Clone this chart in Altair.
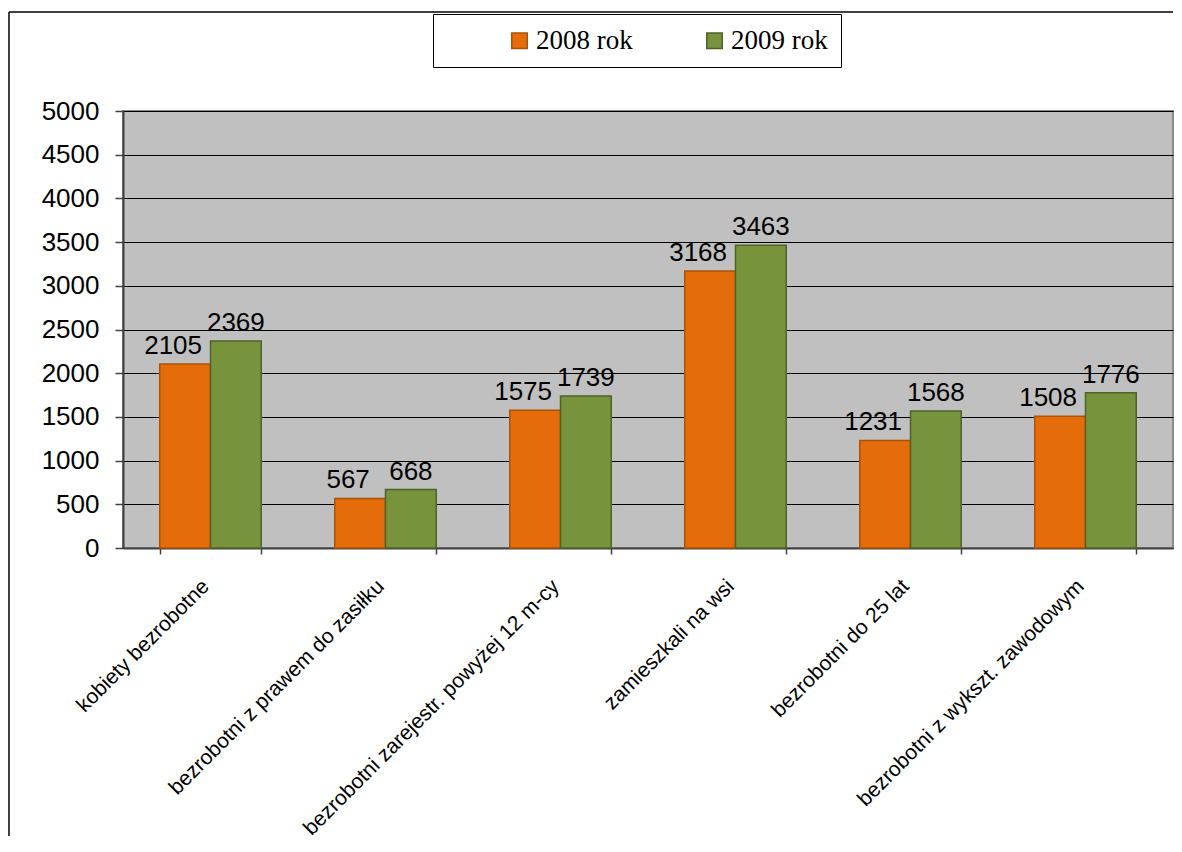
import altair as alt
import pandas as pd

categories = [
    "kobiety bezrobotne",
    "bezrobotni z prawem do zasiłku",
    "bezrobotni zarejestr. powyżej 12 m-cy",
    "zamieszkali na wsi",
    "bezrobotni do 25 lat",
    "bezrobotni z wykszt. zawodowym",
]
series = ["2008 rok", "2009 rok"]
values_2008 = [2105, 567, 1575, 3168, 1231, 1508]
values_2009 = [2369, 668, 1739, 3463, 1568, 1776]
y_ticks = [0, 500, 1000, 1500, 2000, 2500, 3000, 3500, 4000, 4500, 5000]

fill_colors = ["#E46C0A", "#77933C"]
stroke_colors = ["#A9520A", "#4F6228"]

rows = []
for c, a, b in zip(categories, values_2008, values_2009):
    rows.append({"kategoria": c, "rok": series[0], "wartosc": a})
    rows.append({"kategoria": c, "rok": series[1], "wartosc": b})
df = pd.DataFrame(rows)

W, H = 1050, 437

x = alt.X(
    "kategoria:N",
    sort=categories,
    title=None,
    scale=alt.Scale(paddingInner=0.42, paddingOuter=0.21),
    axis=alt.Axis(
        labelAngle=-45,
        labelAlign="right",
        labelBaseline="middle",
        labelFont="Liberation Sans",
        labelFontSize=21,
        labelColor="black",
        labelPadding=29,
        labelOffset=-5,
        labelLimit=600,
        tickBand="extent",
        tickSize=6,
        tickColor="#404040",
        tickWidth=1.5,
        domainColor="#404040",
        domainWidth=2,
        grid=False,
    ),
)
xo = alt.XOffset("rok:N", sort=series, scale=alt.Scale(paddingInner=0, paddingOuter=0))
y = alt.Y(
    "wartosc:Q",
    title=None,
    scale=alt.Scale(domain=[0, 5000], nice=False),
    axis=alt.Axis(
        values=y_ticks,
        format="d",
        labelFont="Liberation Sans",
        labelFontSize=26,
        labelColor="black",
        labelPadding=16,
        tickSize=8,
        tickColor="#404040",
        tickWidth=1.5,
        domainColor="#404040",
        domainWidth=2,
        grid=True,
        gridColor="black",
        gridWidth=1,
    ),
)

legend_props = dict(
    orient="none",
    legendX=310,
    legendY=-97,
    direction="horizontal",
    title=None,
    strokeColor="black",
    fillColor="white",
    padding=13,
    symbolType="square",
    symbolSize=240,
    symbolStrokeWidth=1.5,
    symbolOffset=60,
    labelFont="Liberation Serif",
    labelFontSize=27,
    labelColor="black",
    labelOffset=3,
)

color = alt.Color("rok:N", sort=series, scale=alt.Scale(domain=series, range=fill_colors),
                  legend=alt.Legend(**legend_props))
stroke = alt.Stroke("rok:N", sort=series, scale=alt.Scale(domain=series, range=stroke_colors),
                    legend=alt.Legend(**legend_props))

bars = alt.Chart(df).mark_bar(strokeWidth=1.5).encode(x=x, xOffset=xo, y=y, color=color, stroke=stroke)

text_base = alt.Chart(df).encode(x=x, xOffset=xo, y=y, text=alt.Text("wartosc:Q"))
txt_style = dict(baseline="alphabetic", dy=-10, fontSize=26, font="Liberation Sans", color="black")
text_2008 = text_base.transform_filter(alt.datum.rok == series[0]).mark_text(dx=-12, **txt_style)
text_2009 = text_base.transform_filter(alt.datum.rok == series[1]).mark_text(dx=0, **txt_style)

frame_df = pd.DataFrame({"f": [0]})
frame_top = alt.Chart(frame_df).mark_rule(color="black", strokeWidth=1.5).encode(
    x=alt.value(-114), x2=alt.value(W), y=alt.value(-99)
)
frame_left = alt.Chart(frame_df).mark_rule(color="black", strokeWidth=1.5).encode(
    x=alt.value(-114), y=alt.value(-99), y2=alt.value(725)
)

chart = (
    alt.layer(bars, text_2008, text_2009, frame_top, frame_left)
    .properties(width=W, height=H, padding={"left": 0, "top": 3, "right": 0, "bottom": 0}, background="white")
    .configure_view(fill="#C0C0C0", stroke="#8C8C8C", strokeWidth=2)
    .configure_legend(columnPadding=8, strokeWidth=1)
)

chart.save("out.html", embed_options={"renderer": "svg", "actions": False})
